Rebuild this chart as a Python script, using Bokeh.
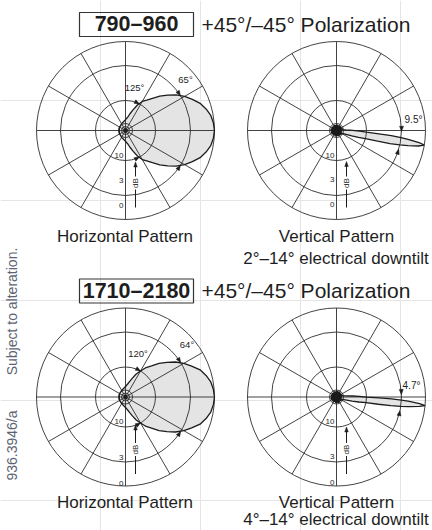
import numpy as np
from bokeh.plotting import figure
from bokeh.models import Range1d
from bokeh.embed import file_html
from bokeh.resources import INLINE
from bokeh.core.properties import value

# ---------------- data ----------------
band_labels = ["790–960", "1710–2180"]
polarization = "+45°/–45° Polarization"
h_titles = ["Horizontal Pattern", "Horizontal Pattern"]
v_titles = ["Vertical Pattern", "Vertical Pattern"]
tilt_labels = ["2°–14° electrical downtilt", "4°–14° electrical downtilt"]
side_texts = ["936.3946/a", "Subject to alteration."]

ring_db = [0, 3, 10, 20, 30]            # dB rings of the polar grid
spoke_deg = list(range(0, 360, 30))      # radial grid lines
db_tick_labels = ["10", "3", "0"]

# horizontal patterns, symmetric about 0 deg: angle (deg) -> attenuation (dB)
h_deg = [0, 5, 10, 15, 20, 25, 30, 35, 40, 45, 50, 55, 60, 65, 70, 75, 80, 85, 90,
         105, 120, 135, 150, 165, 180]
h1_db = [0, 0.1, 0.3, 0.7, 1.2, 1.9, 2.6, 3.6, 5.0, 6.3, 7.6, 8.6, 9.3, 10.8, 13.5, 15.5,
         17.0, 17.8, 18.3, 19.2, 19.6, 20.0, 20.5, 22.0, 23.0]
h2_db = [0, 0.1, 0.3, 0.7, 1.2, 2.0, 2.7, 3.8, 5.2, 6.5, 7.9, 8.8, 10.0, 12.0, 14.3, 16.0,
         17.2, 18.0, 18.5, 19.3, 19.7, 20.2, 20.7, 22.0, 23.0]
h_hpbw = [65, 64]      # 3 dB beamwidth (deg)
h_bw10 = [125, 120]    # 10 dB beamwidth (deg)

# vertical patterns: main beam angle (deg) -> attenuation (dB)
v_beam_db = [23, 19, 16, 13, 10, 7.5, 5, 3, 2, 0.7, 0, 0.7, 2, 3, 5, 7.5, 10, 13, 16, 19, 23]
v1_beam_deg = [8.5, 3.5, 0.5, -1.5, -3.3, -4.5, -5.3, -6.2, -7.1, -8.3, -9.5, -10.7, -11.9,
               -12.8, -13.7, -14.5, -15.7, -17.5, -19.5, -22.5, -27.5]
v2_beam_deg = [11.5, 6.5, 3.5, 1.5, -0.2, -1.2, -1.9, -2.7, -3.5, -4.5, -5.5, -6.5, -7.5,
               -8.3, -9.1, -9.8, -10.8, -12.5, -14.5, -17.5, -22.5]
# side / back lobe envelope
v_side_deg = [-40, -55, -70, -85, -100, -115, -130, -145, -160, -175,
              170, 155, 140, 125, 110, 95, 80, 65, 50, 35, 20]
v1_side_db = [24, 27, 25, 28, 25, 29, 26, 28, 25, 27, 25, 28, 26, 29, 25, 27, 25, 28, 25, 27, 24]
v2_side_db = [25, 28, 24, 27, 25, 29, 25, 28, 24, 27, 25, 28, 25, 29, 25, 28, 24, 27, 25, 28, 24]
v_hpbw_text = ["9.5°", "4.7°"]
v1_mark_deg = [-0.7, -16.8]
v2_mark_deg = [2.3, -12.2]

# ---------------- layout / style ----------------
W, H = 432, 530
RING_R = [89, 65, 30, 7, 4]
CENTERS = {"h1": (125, 130), "v1": (336, 130), "h2": (125, 396.5), "v2": (336, 396.5)}
GRID = "#2e2e2e"
OUT = "#1c1c1c"
FILL = "#e4e4e4"
TXT = "#1e1e1e"
FONT = value("Liberation Sans")

p = figure(width=W, height=H, output_backend="svg", toolbar_location=None,
           x_range=Range1d(0, W), y_range=Range1d(-H, 0),
           x_axis_location=None, y_axis_location=None, min_border=0,
           outline_line_color=None, background_fill_color="white",
           border_fill_color="white")


def db_to_r(db):
    return np.interp(np.asarray(db, dtype=float), ring_db, RING_R)


def polar(cx, cy, r, deg):
    a = np.radians(np.asarray(deg, dtype=float))
    return cx + np.asarray(r) * np.cos(a), -cy + np.asarray(r) * np.sin(a)


def text(x, py, s, size, align="center", baseline="middle", color=TXT, angle=0.0,
         style="normal"):
    # py is a page-style (downward) y position
    p.text(x=[x], y=[-py], text=[s], text_font=FONT, text_font_size=value(size),
           text_align=align, text_baseline=baseline, text_color=color, angle=angle,
           text_font_style=style)


def arrowheads(tips, dirs, L=5.0, Wd=4.0):
    xs, ys = [], []
    for (tx, ty), (dx, dy) in zip(tips, dirs):
        bx, by = tx - L * dx, ty - L * dy
        nx, ny = -dy, dx
        xs.append([tx, bx + nx * Wd / 2, bx - nx * Wd / 2])
        ys.append([ty, by + ny * Wd / 2, by - ny * Wd / 2])
    p.patches(xs, ys, fill_color=OUT, line_color=OUT, line_width=0.5)


def grid(cx, cy):
    p.circle(x=[cx] * len(RING_R), y=[-cy] * len(RING_R), radius=RING_R,
             fill_color=None, line_color=GRID, line_width=0.9)
    xs, ys = [], []
    for d in spoke_deg:
        x1, y1 = polar(cx, cy, RING_R[0], d)
        xs.append([cx, float(x1)])
        ys.append([-cy, float(y1)])
    p.multi_line(xs, ys, line_color=GRID, line_width=0.9)


def pattern(cx, cy, deg, db):
    x, y = polar(cx, cy, db_to_r(db), deg)
    p.patch(x, y, fill_color=FILL, line_color=None)
    return x, y


def outline(x, y):
    p.line(np.append(x, x[0]), np.append(y, y[0]), line_color=OUT, line_width=1.3)


def db_scale(cx, cy, offs, tip):
    for lab, o in zip(db_tick_labels, offs):
        text(cx - 2, cy + o, lab, "8px", align="right")
    ax = cx + 10
    p.multi_line([[ax, ax], [ax, ax]], [[-cy - 77, -cy - 59], [-cy - 46, -cy - tip - 4]],
                 line_color=OUT, line_width=1.0)
    arrowheads([(ax, -cy - tip)], [(0.0, 1.0)], L=5, Wd=3.5)
    text(ax, cy + 52.5, "dB", "8px", angle=np.pi / 2)


# ---------------- horizontal patterns ----------------
full_h_deg = h_deg + [-d for d in reversed(h_deg[1:-1])]
for key, dbs, hp, bw, lab_off, row in [
        ("h1", h1_db, h_hpbw[0], h_bw10[0], [(9, -43), (60, -51)], 0),
        ("h2", h2_db, h_hpbw[1], h_bw10[1], [(12.5, -43.5), (61.5, -52.5)], 1)]:
    cx, cy = CENTERS[key]
    full_db = dbs + list(reversed(dbs[1:-1]))
    x, y = pattern(cx, cy, full_h_deg, full_db)
    grid(cx, cy)
    outline(x, y)
    p.circle(x=[cx], y=[-cy], radius=2.2, fill_color=OUT, line_color=None)
    tips, dirs = [], []
    for half, rdb in [(hp / 2, 3), (bw / 2, 10)]:
        r = float(db_to_r(rdb))
        for s in (1, -1):
            a = np.radians(s * half)
            tx, ty = polar(cx, cy, r, s * half)
            tips.append((float(tx), float(ty)))
            dirs.append((np.sin(abs(a)), -s * np.cos(a)))
    arrowheads(tips, dirs)
    text(cx + lab_off[0][0], cy + lab_off[0][1], f"{bw}°", "9.5px")
    text(cx + lab_off[1][0], cy + lab_off[1][1], f"{hp}°", "9.5px")
    if row == 0:
        db_scale(cx, cy, [24.5, 49.5, 75], 31.5)
    else:
        db_scale(cx, cy, [24, 60, 86], 28)

# ---------------- vertical patterns ----------------
for key, bdeg, sdb, marks, lab, lab_off, row in [
        ("v1", v1_beam_deg, v1_side_db, v1_mark_deg, v_hpbw_text[0], (77, -10.7), 0),
        ("v2", v2_beam_deg, v2_side_db, v2_mark_deg, v_hpbw_text[1], (75, -11.5), 1)]:
    cx, cy = CENTERS[key]
    x, y = pattern(cx, cy, bdeg + v_side_deg, v_beam_db + sdb)
    grid(cx, cy)
    outline(x, y)
    sx, sy = polar(cx, cy, db_to_r(sdb), v_side_deg)
    p.patch(sx, sy, fill_color="#1a1a1a", line_color=OUT, line_width=1.0)
    r3 = float(db_to_r(3))
    tips, dirs = [], []
    for m, s in zip(marks, (1, -1)):
        a = np.radians(m)
        tx, ty = polar(cx, cy, r3, m)
        tips.append((float(tx), float(ty)))
        dirs.append((s * np.sin(a), -s * np.cos(a)))
    arrowheads(tips, dirs)
    text(cx + lab_off[0], cy + lab_off[1], lab, "10px")
    if row == 0:
        db_scale(cx, cy, [24.5, 48.5, 73.5], 31)
    else:
        db_scale(cx, cy, [24.5, 59.5, 85], 30)

# ---------------- titles ----------------
for i, shift in enumerate([0, 266.5]):
    p.quad(left=[79], right=[193], top=[-12 - shift], bottom=[-36 - shift],
           fill_color=None, line_color="#333333", line_width=1.2)
    text(136, 23.5 + shift, band_labels[i], "21.5px", style="bold")
    text(201, 23.5 + shift, polarization, "21px", align="left")

# subtitles (vertical centres of the capitals)
text(124.5, 236, h_titles[0], "17px")
text(336, 236, v_titles[0], "17px")
text(335.5, 257.5, tilt_labels[0], "17px")
text(124.5, 502, h_titles[1], "17px")
text(336, 502, v_titles[1], "17px")
text(335.5, 519, tilt_labels[1], "17px")

# rotated side note
text(11, 445, side_texts[0], "14px", color="#5b6374", angle=np.pi / 2)
text(11, 311, side_texts[1], "14px", color="#5b6374", angle=np.pi / 2)

open("out.html", "w").write(file_html(p, INLINE))
